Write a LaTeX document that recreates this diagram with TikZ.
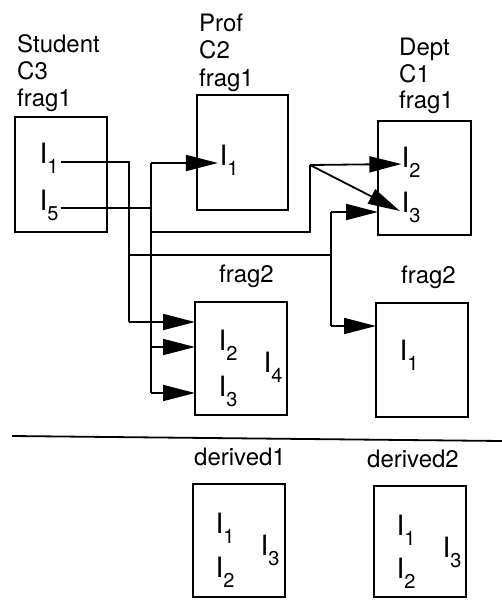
\documentclass[tikz,border=0pt]{standalone}
\usepackage{fontspec}
\setmainfont{TeX Gyre Heros}
\usetikzlibrary{arrows.meta}
\newcommand{\Isub}[1]{{\fontsize{28}{28}\selectfont I}\raisebox{-10pt}{\fontsize{20}{20}\selectfont #1}}
\begin{document}
\begin{tikzpicture}[x=1pt,y=-1pt,
  box/.style={draw, line width=1.8pt, inner sep=0pt, outer sep=0pt},
  itext/.style={inner sep=0pt, anchor=base west},
  lab/.style={inner sep=0pt, anchor=base west, font=\fontsize{24}{27}\selectfont},
  wire/.style={line width=1.8pt},
  arr/.style={line width=1.8pt, -{Triangle[length=32pt,width=16pt]}}]
\useasboundingbox (0,0) rectangle (502,600);

% boxes
\node[box, minimum width=92pt, minimum height=115pt] (sf1) at (61,174.5) {};
\node[box, minimum width=91pt, minimum height=115pt] (pf1) at (242.5,152.5) {};
\node[box, minimum width=93pt, minimum height=114pt] (df1) at (424.5,178) {};
\node[box, minimum width=92pt, minimum height=113pt] (pf2) at (241,358.5) {};
\node[box, minimum width=92pt, minimum height=114pt] (df2) at (422,360) {};
\node[box, minimum width=92pt, minimum height=113pt] (dv1) at (239,540.5) {};
\node[box, minimum width=92pt, minimum height=111pt] (dv2) at (420,541.5) {};

% labels
\node[lab] (lS1) at (17,52) {Student};
\node[lab] (lS2) at (17,79) {C3};
\node[lab] (lS3) at (17,106) {frag1};
\node[lab] (lP1) at (199,31) {Prof};
\node[lab] (lP2) at (199,58) {C2};
\node[lab] (lP3) at (199,86) {frag1};
\node[lab] (lD1) at (399,55) {Dept};
\node[lab] (lD2) at (399,82) {C1};
\node[lab] (lD3) at (399,108) {frag1};
\node[lab] (lP4) at (219,282) {frag2};
\node[lab] (lD4) at (401,283) {frag2};
\node[lab] (lV1) at (194,465) {derived1};
\node[lab] (lV2) at (367,467) {derived2};

% item texts
\node[itext] (sI1) at (39.4,163) {\Isub{1}};
\node[itext] (sI5) at (39.4,210) {\Isub{5}};
\node[itext] (pI1) at (219.4,165) {\Isub{1}};
\node[itext] (dI2) at (401.4,167) {\Isub{2}};
\node[itext] (dI3) at (401.4,212) {\Isub{3}};
\node[itext] (qI2) at (218.4,350) {\Isub{2}};
\node[itext] (qI3) at (218.4,396) {\Isub{3}};
\node[itext] (qI4) at (263.4,372) {\Isub{4}};
\node[itext] (eI1) at (399.4,360) {\Isub{1}};
\node[itext] (aI1) at (215.4,533) {\Isub{1}};
\node[itext] (aI2) at (215.4,577) {\Isub{2}};
\node[itext] (aI3) at (260.4,555) {\Isub{3}};
\node[itext] (bI1) at (396.4,535) {\Isub{1}};
\node[itext] (bI2) at (396.4,578) {\Isub{2}};
\node[itext] (bI3) at (442.4,557) {\Isub{3}};

% junction coordinates
\coordinate (xa) at (129,162);
\coordinate (xb) at (129,322);
\coordinate (ya) at (129,255);
\coordinate (yb) at (331,255);
\coordinate (yc) at (331,212);
\coordinate (yd) at (331,326);
\coordinate (za) at (151,163);
\coordinate (zb) at (151,393);
\coordinate (zc) at (151,347);
\coordinate (zd) at (151,232);
\coordinate (wa) at (310,232);
\coordinate (wb) at (310,165);

% connectors from Student I1
\draw[wire] ([xshift=2pt,yshift=1pt]sI1.base east) -- (xa) -- (xb);
\draw[arr] (xb) -- (xb -| pf2.west);
\draw[wire] (ya) -- (yb);
\draw[wire] (yc) -- (yd);
\draw[arr] (yc) -- (yc -| df1.west);
\draw[arr] (yd) -- (yd -| df2.west);

% connectors from Student I5
\draw[wire] ([xshift=2pt,yshift=2pt]sI5.base east) -- ([yshift=2pt]sI5.base east -| za);
\draw[wire] (za) -- (zb);
\draw[arr] (za) -- ([xshift=-1.5pt,yshift=2pt]pI1.base west);
\draw[arr] (zc) -- (zc -| pf2.west);
\draw[arr] (zb) -- (zb -| pf2.west);
\draw[wire] (zd) -- (wa) -- (wb);
\draw[arr] (wb) -- ([yshift=3pt]dI2.base west);
\draw[arr] (wb) -- ([xshift=-1.5pt,yshift=1pt]dI3.base west);

% separator
\coordinate (sepL) at (12,436);
\coordinate (sepR) at (502,441);
\draw[wire] (sepL) -- (sepR);
\end{tikzpicture}
\end{document}
